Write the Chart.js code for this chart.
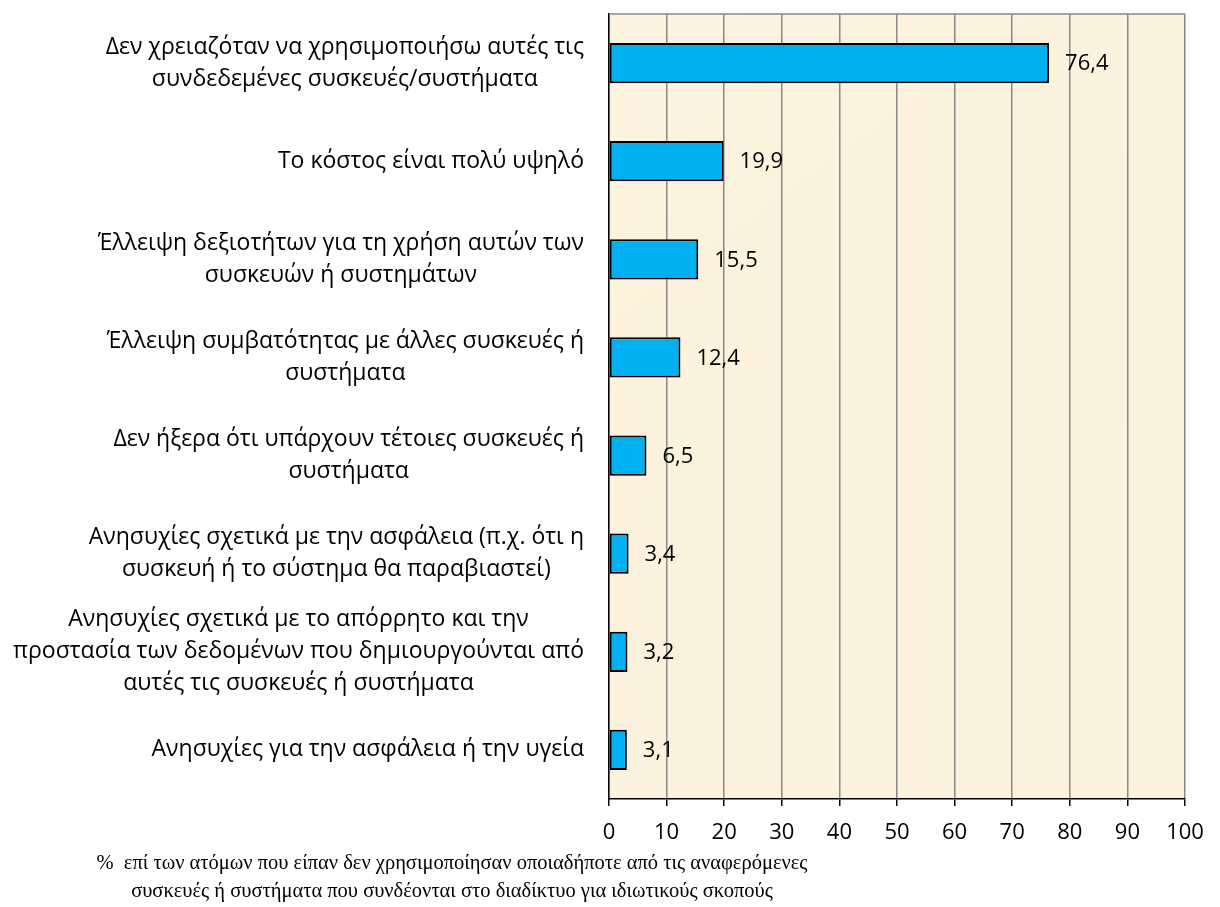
<!DOCTYPE html>
<html>
<head>
<meta charset="utf-8">
<script src="https://cdn.jsdelivr.net/npm/chart.js@4.4.1/dist/chart.umd.min.js"></script>
<style>
  html, body { margin: 0; padding: 0; background: #ffffff; }
  #wrap { position: relative; width: 1220px; height: 907px; overflow: hidden; }
  #c { position: absolute; left: 0; top: 0; }
  #caption {
    position: absolute; left: 2px; top: 848px; width: 900px;
    text-align: center; font-family: "Liberation Serif", "Times New Roman", serif;
    font-size: 20.5px; line-height: 28px; color: #000;
  }
</style>
</head>
<body>
<div id="wrap">
  <canvas id="c" width="1220" height="907"></canvas>
  <div id="caption">%&nbsp;&nbsp;επί των ατόμων που είπαν δεν χρησιμοποίησαν οποιαδήποτε από τις αναφερόμενες<br>συσκευές ή συστήματα που συνδέονται στο διαδίκτυο για ιδιωτικούς σκοπούς</div>
</div>
<script>
const categories = [
  ["Δεν χρειαζόταν να χρησιμοποιήσω αυτές τις", "συνδεδεμένες συσκευές/συστήματα"],
  ["Το κόστος είναι πολύ υψηλό"],
  ["Έλλειψη δεξιοτήτων για τη χρήση αυτών των", "συσκευών ή συστημάτων"],
  ["Έλλειψη συμβατότητας με άλλες συσκευές ή", "συστήματα"],
  ["Δεν ήξερα ότι υπάρχουν τέτοιες συσκευές ή", "συστήματα"],
  ["Ανησυχίες σχετικά με την ασφάλεια (π.χ. ότι η", "συσκευή ή το σύστημα θα παραβιαστεί)"],
  ["Ανησυχίες σχετικά με το απόρρητο και την", "προστασία των δεδομένων που δημιουργούνται από", "αυτές τις συσκευές ή συστήματα"],
  ["Ανησυχίες για την ασφάλεια ή την υγεία"]
];
const values = [76.4, 19.9, 15.5, 12.4, 6.5, 3.4, 3.2, 3.1];
const xTickValues = [0, 10, 20, 30, 40, 50, 60, 70, 80, 90, 100];

const FONT = '"Open Sans", "Noto Sans", sans-serif';
const LABEL_SIZE = 23;
const TICK_SIZE = 22;
const LINE_H = 32;

const bgPlugin = {
  id: 'plotBg',
  beforeDraw(chart) {
    const a = chart.chartArea, ctx = chart.ctx;
    ctx.save();
    const g = ctx.createLinearGradient(a.left, a.top, a.right, a.bottom);
    g.addColorStop(0, '#FDF3E0');
    g.addColorStop(0.5, '#FCF1DC');
    g.addColorStop(1, '#FDF2DE');
    ctx.fillStyle = g;
    ctx.fillRect(a.left, a.top, a.right - a.left, a.bottom - a.top);
    ctx.restore();
  },
  afterDraw(chart) {
    const a = chart.chartArea, ctx = chart.ctx;
    ctx.save();
    ctx.strokeStyle = '#888888';
    ctx.lineWidth = 1.5;
    ctx.beginPath();
    ctx.moveTo(a.left, a.top);
    ctx.lineTo(a.right, a.top);
    ctx.stroke();
    ctx.restore();
  }
};

const catLabelPlugin = {
  id: 'catLabels',
  afterDraw(chart) {
    const ctx = chart.ctx, y = chart.scales.y;
    ctx.save();
    ctx.font = LABEL_SIZE + 'px ' + FONT;
    ctx.fillStyle = '#000';
    ctx.textAlign = 'center';
    ctx.textBaseline = 'middle';
    categories.forEach((lines, i) => {
      const cy = y.getPixelForValue(i);
      const widest = Math.max(...lines.map(l => ctx.measureText(l).width));
      const cx = y.right - 25 - widest / 2;
      const n = lines.length;
      lines.forEach((l, k) => ctx.fillText(l, cx, cy + (k - (n - 1) / 2) * LINE_H));
    });
    ctx.restore();
  }
};

const valueLabelPlugin = {
  id: 'valueLabels',
  afterDatasetsDraw(chart) {
    const ctx = chart.ctx;
    const meta = chart.getDatasetMeta(0);
    ctx.save();
    ctx.font = TICK_SIZE + 'px ' + FONT;
    ctx.fillStyle = '#000';
    ctx.textAlign = 'left';
    ctx.textBaseline = 'middle';
    meta.data.forEach((bar, i) => {
      ctx.fillText(String(values[i]).replace('.', ','), bar.x + 16, bar.y + 1);
    });
    ctx.restore();
  }
};

new Chart(document.getElementById('c'), {
  type: 'bar',
  data: {
    labels: categories,
    datasets: [{
      data: values,
      backgroundColor: '#00B0F0',
      borderColor: '#000000',
      borderWidth: 2,
      borderSkipped: false,
      barPercentage: 0.41,
      categoryPercentage: 1.0
    }]
  },
  options: {
    indexAxis: 'y',
    responsive: false,
    animation: false,
    devicePixelRatio: 1,
    layout: { padding: { top: 14, right: 35, bottom: 0, left: 0 } },
    plugins: { legend: { display: false }, tooltip: { enabled: false }, title: { display: false } },
    scales: {
      x: {
        min: 0, max: 100,
        afterBuildTicks(scale) { scale.ticks = xTickValues.map(v => ({ value: v })); },
        afterFit(scale) { scale.height = 108; },
        ticks: { font: { family: FONT, size: TICK_SIZE }, color: '#000', padding: 14, maxRotation: 0 },
        grid: { color: '#888888', lineWidth: 1.5, tickLength: 7, tickColor: '#000', tickWidth: 1.5 },
        border: { display: true, color: '#000', width: 1.5 }
      },
      y: {
        afterFit(scale) { scale.width = 609; },
        ticks: { display: false },
        grid: { display: false },
        border: { display: true, color: '#000', width: 1.5 }
      }
    }
  },
  plugins: [bgPlugin, catLabelPlugin, valueLabelPlugin]
});
</script>
</body>
</html>
